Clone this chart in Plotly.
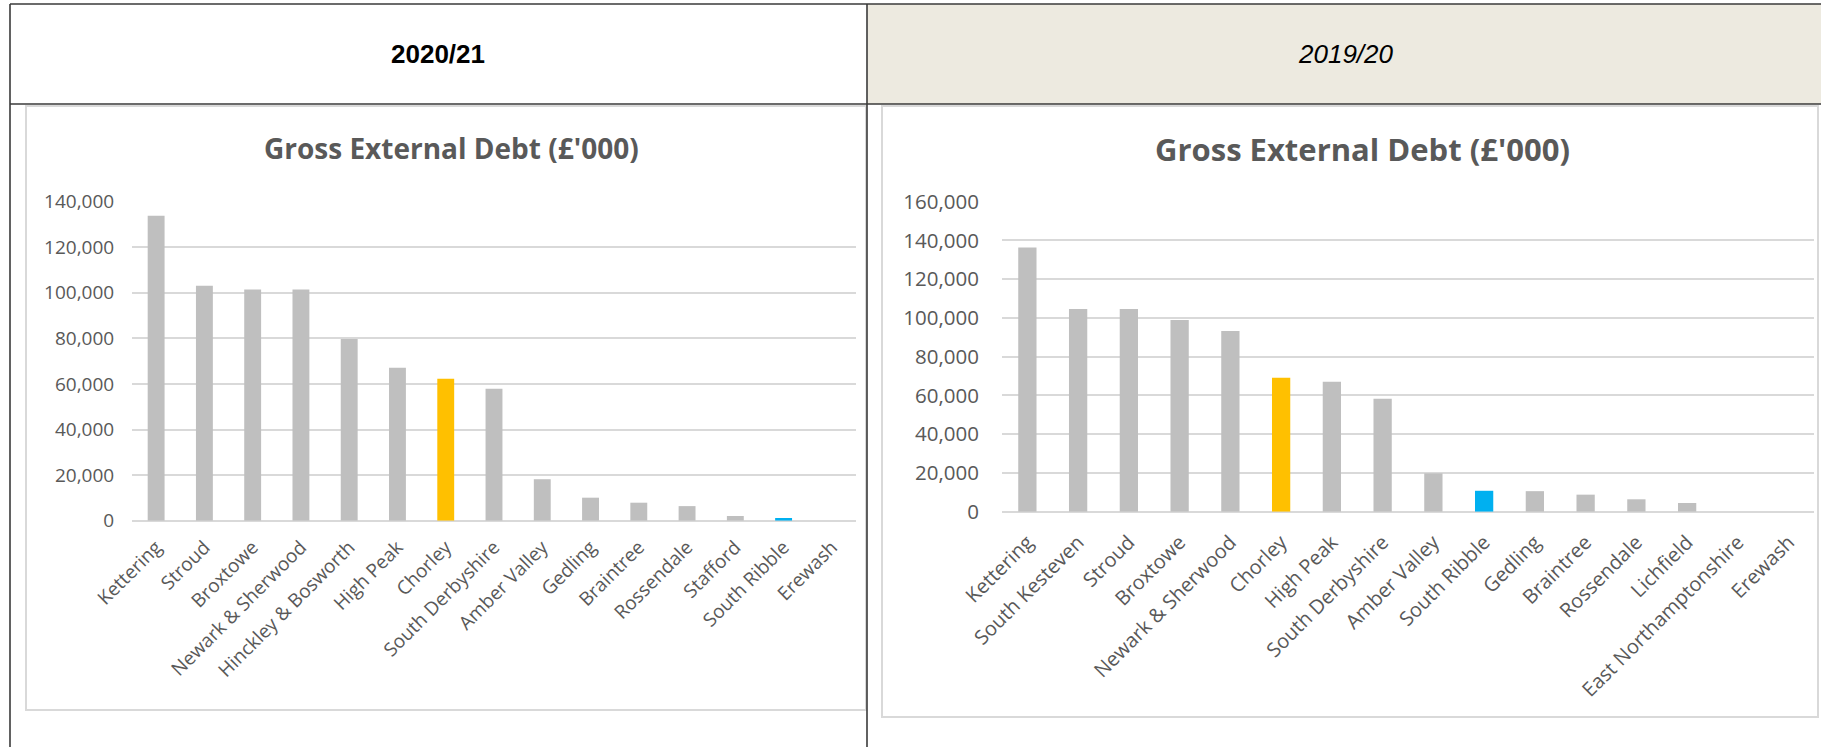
import plotly.graph_objects as go

# ---------------- data ----------------
cats_2021 = ["Kettering", "Stroud", "Broxtowe", "Newark & Sherwood", "Hinckley & Bosworth",
             "High Peak", "Chorley", "South Derbyshire", "Amber Valley", "Gedling",
             "Braintree", "Rossendale", "Stafford", "South Ribble", "Erewash"]
vals_2021 = [133800, 103100, 101500, 101500, 79700, 67100, 62300, 57900, 18200, 10100,
             7900, 6400, 2100, 1200, 0]

cats_1920 = ["Kettering", "South Kesteven", "Stroud", "Broxtowe", "Newark & Sherwood",
             "Chorley", "High Peak", "South Derbyshire", "Amber Valley", "South Ribble",
             "Gedling", "Braintree", "Rossendale", "Lichfield", "East Northamptonshire", "Erewash"]
vals_1920 = [136300, 104600, 104600, 98900, 93300, 69200, 67100, 58300, 19800, 10800,
             10600, 8800, 6400, 4500, 0, 0]

y_ticks_2021 = [0, 20000, 40000, 60000, 80000, 100000, 120000, 140000]
y_ticks_1920 = [0, 20000, 40000, 60000, 80000, 100000, 120000, 140000, 160000]

header_left = "2020/21"
header_right = "2019/20"
chart_title = "Gross External Debt (£'000)"

# ---------------- styling ----------------
W, H = 1821, 747
def px(x):
    return x / W
def py(y):
    return 1 - y / H

GREY_BAR = "#BFBFBF"
HIGHLIGHT = {"Chorley": "#FFC000", "South Ribble": "#00B0F0"}
TXT = "#595959"
GRID = "#D9D9D9"
FONT = "Open Sans"

def colors(cats):
    return [HIGHLIGHT.get(c, GREY_BAR) for c in cats]

fig = go.Figure()
fig.add_trace(go.Bar(x=cats_2021, y=vals_2021, marker=dict(color=colors(cats_2021), line=dict(width=0)),
                     width=0.35, xaxis="x", yaxis="y", showlegend=False))
fig.add_trace(go.Bar(x=cats_1920, y=vals_1920, marker=dict(color=colors(cats_1920), line=dict(width=0)),
                     width=0.36, xaxis="x2", yaxis="y2", showlegend=False))

def xstyle(size, standoff):
    return dict(type="category", tickangle=-45, showgrid=False, showline=False, zeroline=False,
                ticks="outside", ticklen=standoff, tickcolor="rgba(0,0,0,0)", automargin=False,
                tickfont=dict(family=FONT, size=size, color=TXT), fixedrange=True)

def ystyle(size, standoff):
    return dict(tickformat=",", showgrid=True, gridcolor=GRID, gridwidth=1.6, zeroline=True,
                zerolinecolor=GRID, zerolinewidth=1.6, showline=False, automargin=False,
                ticks="outside", ticklen=standoff, tickcolor="rgba(0,0,0,0)",
                tickfont=dict(family=FONT, size=size, color=TXT), fixedrange=True)

fig.update_layout(
    width=W, height=H, autosize=False,
    margin=dict(l=0, r=0, t=0, b=0, pad=0, autoexpand=False),
    paper_bgcolor="white", plot_bgcolor="rgba(0,0,0,0)",
    xaxis=dict(domain=[px(132), px(856)], anchor="y", **xstyle(19, 7)),
    yaxis=dict(domain=[py(520.7), py(201.7)], anchor="x", range=[0, 140000],
               tickvals=y_ticks_2021, **ystyle(19, 13)),
    xaxis2=dict(domain=[px(1002), px(1814)], anchor="y2", **xstyle(20, 10)),
    yaxis2=dict(domain=[py(511.7), py(201.7)], anchor="x2", range=[0, 160000],
                tickvals=y_ticks_1920, **ystyle(20.5, 18)),
)

shapes = []
# header background of right column
shapes.append(dict(type="rect", xref="paper", yref="paper", x0=px(867), x1=1, y0=py(104), y1=py(4),
                   fillcolor="#EDEAE0", line=dict(width=0), layer="below"))
# chart panels
shapes.append(dict(type="rect", xref="paper", yref="paper", x0=px(26), x1=px(866), y0=py(710), y1=py(106),
                   fillcolor="rgba(0,0,0,0)", line=dict(color="#D9D9D9", width=2), layer="below"))
shapes.append(dict(type="rect", xref="paper", yref="paper", x0=px(882), x1=px(1818), y0=py(717), y1=py(106),
                   fillcolor="rgba(0,0,0,0)", line=dict(color="#D9D9D9", width=2), layer="below"))
# table lines
LINE = dict(color="#3A3A3A", width=1.6)
shapes.append(dict(type="line", xref="paper", yref="paper", x0=px(10), x1=1, y0=py(4), y1=py(4), line=LINE))
shapes.append(dict(type="line", xref="paper", yref="paper", x0=px(10), x1=1, y0=py(104), y1=py(104), line=LINE))
shapes.append(dict(type="line", xref="paper", yref="paper", x0=px(10), x1=px(10), y0=py(4), y1=0, line=LINE))
shapes.append(dict(type="line", xref="paper", yref="paper", x0=px(867), x1=px(867), y0=py(4), y1=0, line=LINE))
fig.update_layout(shapes=shapes)

annotations = [
    dict(text=header_left, xref="paper", yref="paper", x=px(438), y=py(54), xanchor="center", yanchor="middle",
         showarrow=False, font=dict(family="Liberation Sans", size=26, color="black", weight="bold")),
    dict(text=header_right, xref="paper", yref="paper", x=px(1346), y=py(54), xanchor="center", yanchor="middle",
         showarrow=False, font=dict(family="Liberation Sans", size=26, color="black", style="italic")),
    dict(text=chart_title, xref="paper", yref="paper", x=px(451), y=py(148), xanchor="center", yanchor="middle",
         showarrow=False, font=dict(family=FONT, size=28, color=TXT, weight="bold")),
    dict(text=chart_title, xref="paper", yref="paper", x=px(1362), y=py(149), xanchor="center", yanchor="middle",
         showarrow=False, font=dict(family=FONT, size=31, color=TXT, weight="bold")),
]
fig.update_layout(annotations=annotations)

fig.write_html("out.html")
